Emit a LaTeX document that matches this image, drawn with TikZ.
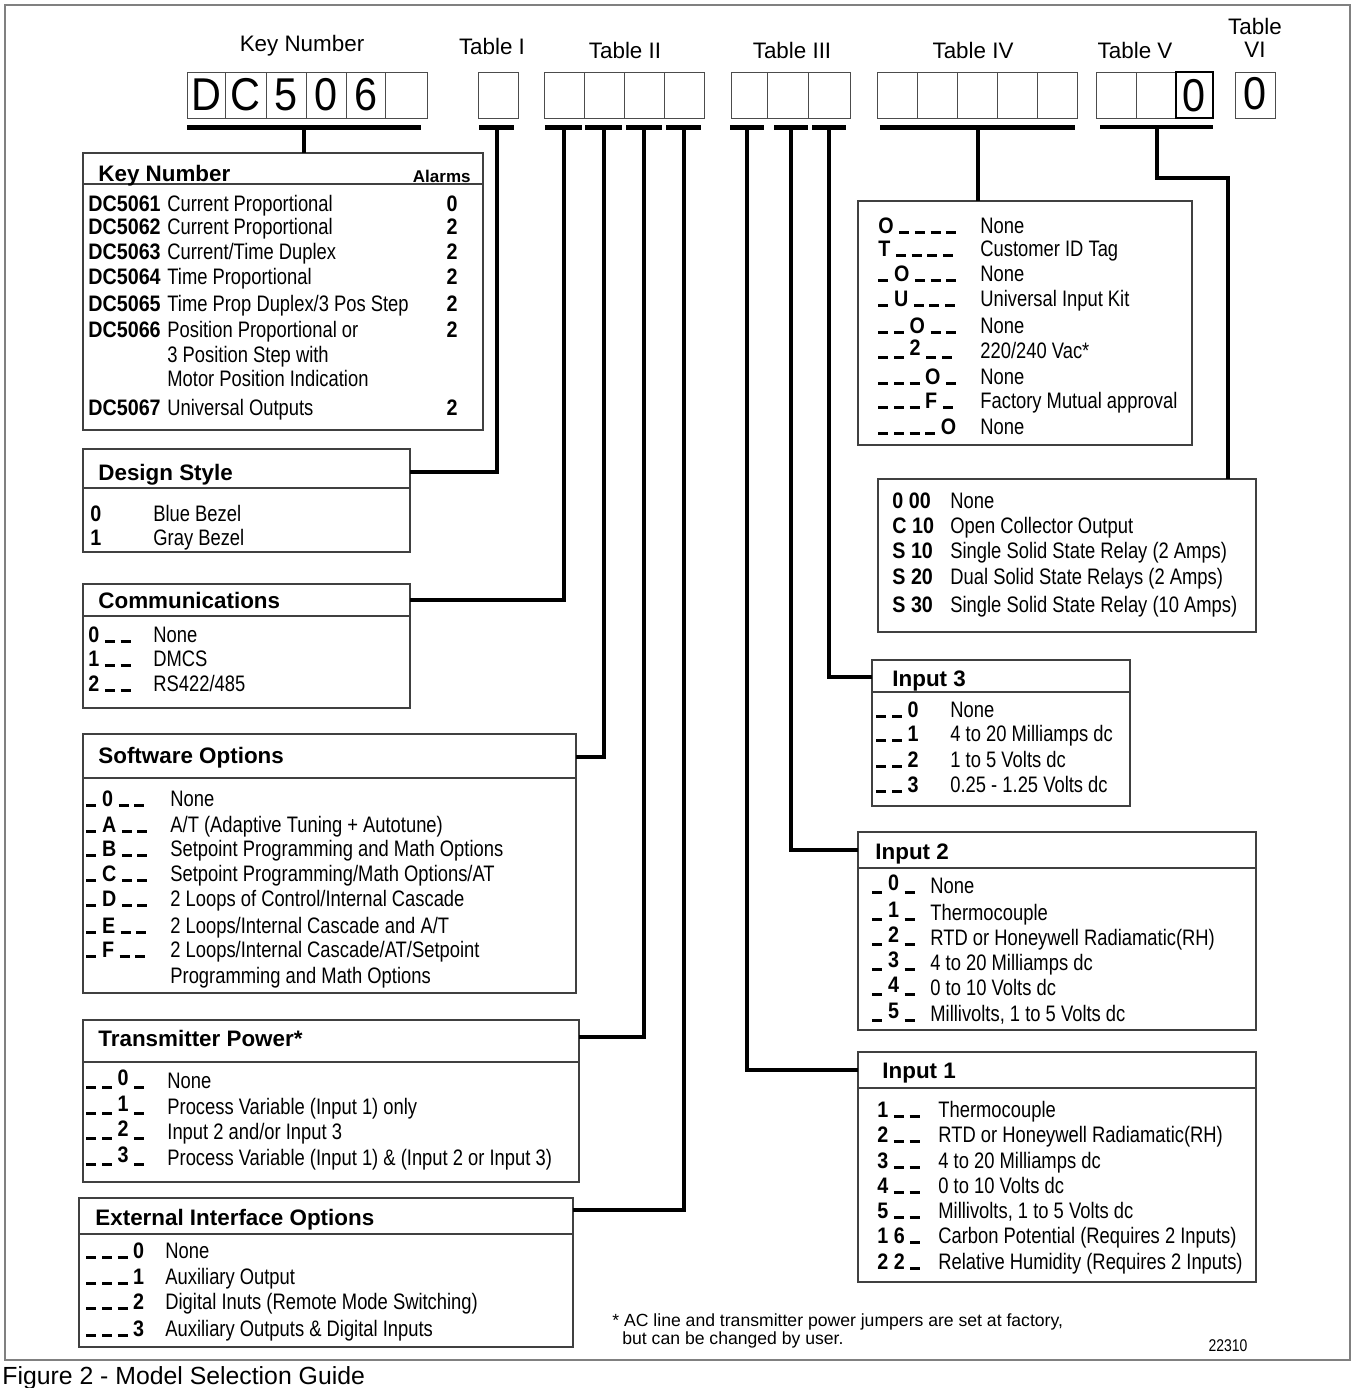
\documentclass[tikz,border=0pt]{standalone}
\usepackage{fontspec}
\setmainfont{Liberation Sans}
\newfontfamily\nar[FakeStretch=0.82]{Liberation Sans}
\newfontfamily\narb[FakeStretch=0.88]{Liberation Sans}
\newfontfamily\bign[FakeStretch=0.9]{Liberation Sans}
\usetikzlibrary{fit}
\newcommand\U{\rule[-0.3pt]{5pt}{1.2pt}\hspace{2.8pt}}
\newcommand\G{\hspace{2.8pt}}
\newcommand\R[1]{\raisebox{1.5pt}{#1}}
\newcommand\rw[6]{\node[cd] (#1c) at (#2,#4+8) {#5}; \node[tx] (#1t) at (#3,#4+8) {#6};}
\newcommand\krow[5]{\node[cd] (kc#1) at (88,#2+8) {#3}; \node[tx] (kx#1) at (167,#2+8) {#4}; \node[cd, anchor=base] (ka#1) at (452,#2+8) {#5};}
\begin{document}
\begin{tikzpicture}[x=0.5pt,y=-0.5pt,
 tx/.style={font=\nar\fontsize{11.2}{13}\selectfont, inner sep=0, anchor=base west},
 cd/.style={font=\narb\bfseries\fontsize{11.2}{13}\selectfont, inner sep=0, anchor=base west},
 ttl/.style={font=\bfseries\fontsize{11.2}{13}\selectfont, inner sep=0, anchor=base west},
 lbl/.style={font=\fontsize{11.2}{11.5}\selectfont, inner sep=0},
 big/.style={font=\bign\fontsize{23}{26}\selectfont, inner sep=0},
 fnt/.style={font=\fontsize{8.8}{10}\selectfont, anchor=base west, inner sep=0},
 cell/.style={draw=black!70, line width=0.5pt},
 box/.style={draw=black!75, line width=0.6pt, inner sep=0, outer sep=0},
 bar/.style={fill=black, inner sep=0, minimum height=2.5pt},
 conn/.style={line width=2pt},
]
\useasboundingbox (0,0) rectangle (1353,1388);
\draw[black!50, line width=0.8pt] (5,5) rectangle (1350,1360);

% top labels
\node[lbl] (lk) at (302,46) {Key Number};
\node[lbl] (l1) at (492,46) {Table I};
\node[lbl] (l2) at (625,50) {Table II};
\node[lbl] (l3) at (792,50) {Table III};
\node[lbl] (l4) at (973,50) {Table IV};
\node[lbl] (l5) at (1135,50) {Table V};
\node[lbl, align=center] (l6) at (1255,38) {Table\\VI};

% header cells
\draw[cell] (187,72) rectangle (427,118);
\foreach \x in {225,266,306,346,385} \draw[cell] (\x,72) -- (\x,118);
\draw[cell] (478,72) rectangle (518,118);
\draw[cell] (544,72) rectangle (704,118);
\foreach \x in {584,624,664} \draw[cell] (\x,72) -- (\x,118);
\draw[cell] (731,72) rectangle (850,118);
\foreach \x in {767,808} \draw[cell] (\x,72) -- (\x,118);
\draw[cell] (877,72) rectangle (1077,118);
\foreach \x in {917,957,997,1037} \draw[cell] (\x,72) -- (\x,118);
\draw[cell] (1096,72) rectangle (1213,118);
\draw[cell] (1136,72) -- (1136,118);
\draw[black, line width=1pt] (1176,72) rectangle (1213,118);
\draw[cell] (1235,72) rectangle (1275,118);

\node[big] (d1) at (206,95) {D};
\node[big] (d2) at (245,95) {C};
\node[big] (d3) at (286,95) {5};
\node[big] (d4) at (326,95) {0};
\node[big] (d5) at (366,95) {6};
\node[big] (v0) at (1194,96) {0};
\node[big] (w0) at (1255,94) {0};

% bars
\node[bar, minimum width=117pt] (bk) at (304,127) {};
\node[bar, minimum width=17.5pt] (b1) at (496.5,127) {};
\node[bar, minimum width=18.5pt] (b2a) at (563.5,127) {};
\node[bar, minimum width=18.5pt] (b2b) at (603.5,127) {};
\node[bar, minimum width=18pt] (b2c) at (644,127) {};
\node[bar, minimum width=17.5pt] (b2d) at (683.5,127) {};
\node[bar, minimum width=17pt] (b3a) at (747,127) {};
\node[bar, minimum width=17pt] (b3b) at (791,127) {};
\node[bar, minimum width=17pt] (b3c) at (829,127) {};
\node[bar, minimum width=97.5pt] (b4) at (977.5,127) {};
\node[bar, minimum width=56.5pt, minimum height=1.8pt] (b5) at (1156.5,127) {};

% boxes
\node[box, fit={(83,153) (483,430)}] (kt) {};
\node[box, fit={(83,449) (410,552)}] (ds) {};
\node[box, fit={(83,584) (410,708)}] (cm) {};
\node[box, fit={(83,734) (576,993)}] (sw) {};
\node[box, fit={(83,1020) (579,1182)}] (tp) {};
\node[box, fit={(79,1198) (573,1347)}] (ei) {};
\node[box, fit={(858,201) (1192,445)}] (t4) {};
\node[box, fit={(878,479) (1256,632)}] (t5) {};
\node[box, fit={(872,660) (1130,806)}] (i3) {};
\node[box, fit={(858,832) (1256,1030)}] (i2) {};
\node[box, fit={(858,1052) (1256,1282)}] (i1) {};

% separators
\draw[box] (83,184) -- (483,184);
\draw[box] (83,488) -- (410,488);
\draw[box] (83,616) -- (410,616);
\draw[box] (83,778) -- (576,778);
\draw[box] (83,1062) -- (579,1062);
\draw[box] (79,1234) -- (573,1234);
\draw[box] (872,692) -- (1130,692);
\draw[box] (858,868) -- (1256,868);
\draw[box] (858,1088) -- (1256,1088);

% connector endpoints
\coordinate (ktin) at (304,153);
\coordinate (dsin) at (410,472);
\coordinate (cmin) at (410,600);
\coordinate (swin) at (576,757);
\coordinate (tpin) at (579,1037);
\coordinate (eiin) at (573,1210);
\coordinate (i1in) at (858,1070);
\coordinate (i2in) at (858,850);
\coordinate (i3in) at (872,677);
\coordinate (t4in) at (977.5,201);
\coordinate (t5in) at (1228,479);

\draw[conn] (bk.center) -- (ktin);
\draw[conn] (b1.center) |- (dsin);
\draw[conn] (b2a.center) |- (cmin);
\draw[conn] (b2b.center) |- (swin);
\draw[conn] (b2c.center) |- (tpin);
\draw[conn] (b2d.center) |- (eiin);
\draw[conn] (b3a.center) |- (i1in);
\draw[conn] (b3b.center) |- (i2in);
\draw[conn] (b3c.center) |- (i3in);
\draw[conn] (b4.center) -- (t4in);
\draw[conn] (b5.center) -- ++(0,51) -| (t5in);

% Key number table
\node[ttl] (kth) at (98,181) {Key Number};
\node[font=\bfseries\fontsize{8.5}{10}\selectfont, inner sep=0, anchor=base east] (kta) at (471,182) {Alarms};
\krow{1}{203}{DC5061}{Current Proportional}{0}
\krow{2}{226}{DC5062}{Current Proportional}{2}
\krow{3}{251}{DC5063}{Current/Time Duplex}{2}
\krow{4}{276}{DC5064}{Time Proportional}{2}
\krow{5}{303}{DC5065}{Time Prop Duplex/3 Pos Step}{2}
\krow{6}{329}{DC5066}{Position Proportional or}{2}
\node[tx] (kx6b) at (167,362) {3 Position Step with};
\node[tx] (kx6c) at (167,386) {Motor Position Indication};
\krow{7}{407}{DC5067}{Universal Outputs}{2}

% Design style
\node[ttl] (dsh) at (98,480) {Design Style};
\rw{ds1}{90}{153}{513}{0}{Blue Bezel}
\rw{ds2}{90}{153}{537}{1}{Gray Bezel}

% Communications
\node[ttl] (cmh) at (98,608) {Communications};
\rw{cm1}{88}{153}{634}{0\G\U\U}{None}
\rw{cm2}{88}{153}{658}{1\G\U\U}{DMCS}
\rw{cm3}{88}{153}{683}{2\G\U\U}{RS422/485}

% Software options
\node[ttl] (swh) at (98,763) {Software Options};
\rw{sw1}{86}{170}{798}{\U 0\G\U\U}{None}
\rw{sw2}{86}{170}{824}{\U A\G\U\U}{A/T (Adaptive Tuning + Autotune)}
\rw{sw3}{86}{170}{848}{\U B\G\U\U}{Setpoint Programming and Math Options}
\rw{sw4}{86}{170}{873}{\U C\G\U\U}{Setpoint Programming/Math Options/AT}
\rw{sw5}{86}{170}{898}{\U D\G\U\U}{2 Loops of Control/Internal Cascade}
\rw{sw6}{86}{170}{925}{\U E\G\U\U}{2 Loops/Internal Cascade and A/T}
\rw{sw7}{86}{170}{949}{\U F\G\U\U}{2 Loops/Internal Cascade/AT/Setpoint}
\node[tx] (sw7b) at (170,983) {Programming and Math Options};

% Transmitter power
\node[ttl] (tph) at (98,1046) {Transmitter Power*};
\rw{tp1}{86}{167}{1080}{\U\U\R{0}\G\U}{None}
\rw{tp2}{86}{167}{1106}{\U\U\R{1}\G\U}{Process Variable (Input 1) only}
\rw{tp3}{86}{167}{1131}{\U\U\R{2}\G\U}{Input 2 and/or Input 3}
\rw{tp4}{86}{167}{1157}{\U\U\R{3}\G\U}{Process Variable (Input 1) \& (Input 2 or Input 3)}

% External interface
\node[ttl] (eih) at (95,1225) {External Interface Options};
\rw{ei1}{86}{165}{1250}{\U\U\U 0}{None}
\rw{ei2}{86}{165}{1276}{\U\U\U 1}{Auxiliary Output}
\rw{ei3}{86}{165}{1301}{\U\U\U 2}{Digital Inuts (Remote Mode Switching)}
\rw{ei4}{86}{165}{1328}{\U\U\U 3}{Auxiliary Outputs \& Digital Inputs}

% Table IV
\rw{f1}{878}{980}{225}{O\G\U\U\U\U}{None}
\rw{f2}{878}{980}{248}{T\G\U\U\U\U}{Customer ID Tag}
\rw{f3}{878}{980}{273}{\U O\G\U\U\U}{None}
\rw{f4}{878}{980}{298}{\U U\G\U\U\U}{Universal Input Kit}
\rw{f5}{878}{980}{325}{\U\U O\G\U\U}{None}
\rw{f6}{878}{980}{350}{\U\U\R{2}\G\U\U}{220/240 Vac*}
\rw{f7}{878}{980}{376}{\U\U\U O\G\U}{None}
\rw{f8}{878}{980}{400}{\U\U\U F\G\U}{Factory Mutual approval}
\rw{f9}{878}{980}{426}{\U\U\U\U O}{None}

% Table V
\rw{v1}{892}{950}{500}{0 00}{None}
\rw{v2}{892}{950}{525}{C 10}{Open Collector Output}
\rw{v3}{892}{950}{550}{S 10}{Single Solid State Relay (2 Amps)}
\rw{v4}{892}{950}{576}{S 20}{Dual Solid State Relays (2 Amps)}
\rw{v5}{892}{950}{604}{S 30}{Single Solid State Relay (10 Amps)}

% Input 3
\node[ttl] (i3h) at (892,686) {Input 3};
\rw{ic1}{876}{950}{709}{\U\U 0}{None}
\rw{ic2}{876}{950}{733}{\U\U 1}{4 to 20 Milliamps dc}
\rw{ic3}{876}{950}{759}{\U\U 2}{1 to 5 Volts dc}
\rw{ic4}{876}{950}{784}{\U\U 3}{0.25 - 1.25 Volts dc}

% Input 2
\node[ttl] (i2h) at (875,859) {Input 2};
\rw{ib1}{872}{930}{885}{\U\R{0}\G\U}{None}
\rw{ib2}{872}{930}{912}{\U\R{1}\G\U}{Thermocouple}
\rw{ib3}{872}{930}{937}{\U\R{2}\G\U}{RTD or Honeywell Radiamatic(RH)}
\rw{ib4}{872}{930}{962}{\U\R{3}\G\U}{4 to 20 Milliamps dc}
\rw{ib5}{872}{930}{987}{\U\R{4}\G\U}{0 to 10 Volts dc}
\rw{ib6}{872}{930}{1013}{\U\R{5}\G\U}{Millivolts, 1 to 5 Volts dc}

% Input 1
\node[ttl] (i1h) at (882,1078) {Input 1};
\rw{ia1}{877}{938}{1109}{1\G\U\U}{Thermocouple}
\rw{ia2}{877}{938}{1134}{2\G\U\U}{RTD or Honeywell Radiamatic(RH)}
\rw{ia3}{877}{938}{1160}{3\G\U\U}{4 to 20 Milliamps dc}
\rw{ia4}{877}{938}{1185}{4\G\U\U}{0 to 10 Volts dc}
\rw{ia5}{877}{938}{1210}{5\G\U\U}{Millivolts, 1 to 5 Volts dc}
\rw{ia6}{877}{938}{1235}{1 6\G\U}{Carbon Potential (Requires 2 Inputs)}
\rw{ia7}{877}{938}{1261}{2 2\G\U}{Relative Humidity (Requires 2 Inputs)}

% footnote etc
\node[fnt] (fn1) at (612,1326) {* AC line and transmitter power jumpers are set at factory,};
\node[fnt] (fn2) at (622,1344) {but can be changed by user.};
\node[font=\nar\fontsize{8.5}{10}\selectfont, inner sep=0] (fig) at (1228,1346) {22310};
\node[font=\fontsize{12.4}{14}\selectfont, anchor=base west, inner sep=0] (cap) at (2,1384) {Figure 2 - Model Selection Guide};
\end{tikzpicture}
\end{document}
